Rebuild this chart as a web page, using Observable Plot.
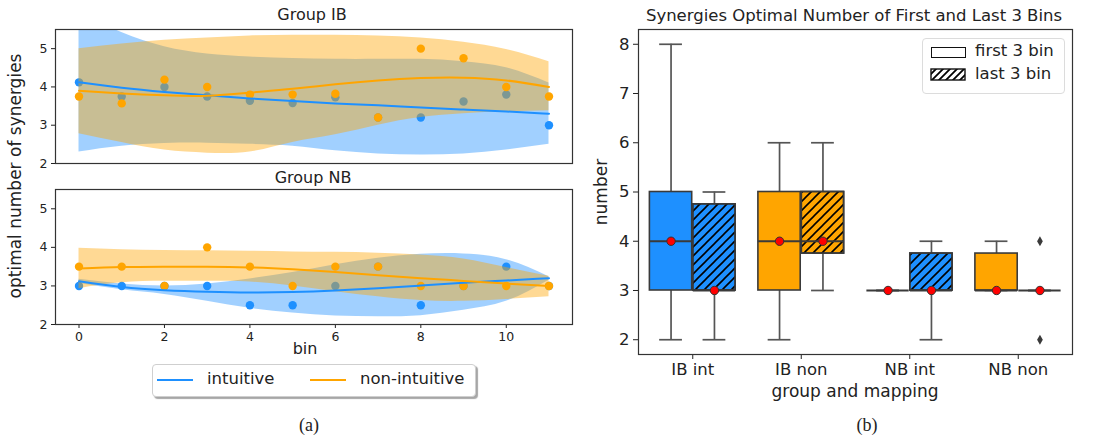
<!DOCTYPE html>
<html>
<head>
<meta charset="utf-8">
<script src="https://cdn.jsdelivr.net/npm/d3@7"></script>
<script src="https://cdn.jsdelivr.net/npm/@observablehq/plot@0.6"></script>
<style>
  body { margin: 0; background: #fff; }
  #fig { position: relative; width: 1096px; height: 438px; background: #fff; font-family: "DejaVu Sans", sans-serif; color: #222; overflow: hidden; }
  .abs { position: absolute; }
  .lbl { position: absolute; white-space: nowrap; line-height: 1; transform: translate(-50%, -50%); }
</style>
</head>
<body>
<div id="fig"></div>
<script>
// ---------- data: panel (a) ----------
const bins = [0, 1, 2, 3, 4, 5, 6, 7, 8, 9, 10, 11];

// Group IB
const ibIntDots = [4.12, 3.75, 4.0, 3.75, 3.64, 3.58, 3.73, 3.2, 3.2, 3.62, 3.8, 3.0];
const ibNonDots = [3.75, 3.57, 4.19, 4.0, 3.8, 3.8, 3.82, 3.2, 5.0, 4.75, 4.0, 3.75];
const ibIntFit = [4.12, 3.98, 3.87, 3.78, 3.7, 3.63, 3.57, 3.52, 3.46, 3.41, 3.36, 3.3];
const ibIntLo = [2.3, 2.45, 2.52, 2.53, 2.5, 2.45, 2.33, 2.25, 2.22, 2.25, 2.35, 2.5];
const ibIntHi = [5.95, 5.42, 5.05, 4.86, 4.78, 4.74, 4.72, 4.72, 4.72, 4.66, 4.5, 4.1];
const ibNonFit = [3.9, 3.83, 3.78, 3.77, 3.85, 3.95, 4.07, 4.17, 4.23, 4.24, 4.17, 4.0];
const ibNonLo = [2.78, 2.55, 2.35, 2.27, 2.3, 2.55, 2.75, 3.0, 3.2, 3.3, 3.35, 3.38];
const ibNonHi = [5.0, 5.12, 5.22, 5.28, 5.33, 5.35, 5.35, 5.33, 5.28, 5.17, 4.98, 4.66];

// Group NB
const nbIntDots = [3.0, 3.0, 3.0, 3.0, 2.5, 2.5, 3.0, 3.5, 2.5, 3.0, 3.5, 3.0];
const nbNonDots = [3.5, 3.5, 3.0, 4.0, 3.5, 3.0, 3.5, 3.5, 3.0, 3.0, 3.0, 3.0];
const nbIntFit = [3.12, 2.97, 2.89, 2.85, 2.83, 2.84, 2.88, 2.94, 3.01, 3.08, 3.14, 3.2];
const nbIntLo = [3.06, 2.9, 2.78, 2.6, 2.42, 2.3, 2.22, 2.2, 2.23, 2.37, 2.6, 3.15];
const nbIntHi = [3.17, 3.05, 3.0, 3.05, 3.18, 3.35, 3.55, 3.72, 3.82, 3.83, 3.68, 3.24];
const nbNonFit = [3.45, 3.49, 3.5, 3.5, 3.48, 3.43, 3.36, 3.28, 3.2, 3.13, 3.06, 3.0];
const nbNonLo = [2.93, 3.08, 3.12, 3.12, 3.1, 3.0, 2.85, 2.72, 2.62, 2.6, 2.65, 2.72];
const nbNonHi = [3.98, 3.94, 3.92, 3.91, 3.9, 3.88, 3.87, 3.85, 3.8, 3.7, 3.48, 3.25];

const yTicksA = [2, 3, 4, 5];
const xTicksA = [0, 2, 4, 6, 8, 10];
const seriesNames = ["intuitive", "non-intuitive"];

// ---------- data: panel (b) ----------
const boxCats = ["IB int", "IB non", "NB int", "NB non"];
const boxHues = ["first 3 bin", "last 3 bin"];
const boxCat = [0, 0, 1, 1, 2, 2, 3, 3];
const boxHue = [0, 1, 0, 1, 0, 1, 0, 1];
const whiskLo = [2, 2, 2, 3, 3, 2, 3, 3];
const boxQ1 = [3, 3, 3, 3.75, 3, 3, 3, 3];
const boxMed = [4, 3, 4, 4, 3, 3, 3, 3];
const boxQ3 = [5, 4.75, 5, 5, 3, 3.75, 3.75, 3];
const whiskHi = [8, 5, 6, 6, 3, 4, 4, 3];
const boxMean = [4, 3, 4, 4, 3, 3, 3, 3];
const outCat = [3, 3];
const outHue = [1, 1];
const outVal = [4, 2];
const yTicksB = [2, 3, 4, 5, 6, 7, 8];

const BLUE = "#1e90ff";
const ORANGE = "#ffa500";
const BAND_OP = 0.42;
const intFmt = d => String(d);

const fig = document.getElementById("fig");

function place(el, x, y) {
  const d = document.createElement("div");
  d.className = "abs";
  d.style.left = x + "px";
  d.style.top = y + "px";
  d.appendChild(el);
  fig.appendChild(d);
  return d;
}
function text(t, x, y, size, extra = "") {
  const d = document.createElement("div");
  d.className = "lbl";
  d.style.left = x + "px";
  d.style.top = y + "px";
  d.style.fontSize = size + "px";
  d.style.cssText += extra;
  d.textContent = t;
  fig.appendChild(d);
  return d;
}

function rowsOf(intDots, nonDots, intFit, intLo, intHi, nonFit, nonLo, nonHi) {
  return bins.map((b, i) => ({
    bin: b, intDot: intDots[i], nonDot: nonDots[i],
    intFit: intFit[i], intLo: intLo[i], intHi: intHi[i],
    nonFit: nonFit[i], nonLo: nonLo[i], nonHi: nonHi[i]
  }));
}

function panel(d, { height, marginTop, marginBottom, xAxis }) {
  return Plot.plot({
    width: 590, height, marginLeft: 55, marginRight: 18, marginTop, marginBottom,
    style: { fontFamily: "DejaVu Sans", fontSize: "12.5px", color: "#222", background: "transparent", overflow: "visible" },
    x: { domain: [-0.55, 11.55], ticks: xTicksA, tickFormat: intFmt, tickSize: 4, tickPadding: 4, label: null, axis: xAxis ? "bottom" : null },
    y: { domain: [2, 5.5], ticks: yTicksA, tickFormat: intFmt, tickSize: 4, tickPadding: 4, label: null },
    marks: [
      Plot.areaY(d, { x: "bin", y1: "intLo", y2: "intHi", fill: BLUE, fillOpacity: BAND_OP, curve: "natural", clip: true }),
      Plot.dot(d, { x: "bin", y: "intDot", fill: BLUE, r: 4.2 }),
      Plot.areaY(d, { x: "bin", y1: "nonLo", y2: "nonHi", fill: ORANGE, fillOpacity: BAND_OP, curve: "natural", clip: true }),
      Plot.dot(d, { x: "bin", y: "nonDot", fill: ORANGE, r: 4.2 }),
      Plot.line(d, { x: "bin", y: "intFit", stroke: BLUE, strokeWidth: 2, curve: "natural" }),
      Plot.line(d, { x: "bin", y: "nonFit", stroke: ORANGE, strokeWidth: 2, curve: "natural" }),
      Plot.frame({ stroke: "#333", strokeWidth: 1.2 })
    ]
  });
}

// ---------- panel (a) ----------
const ibRows = rowsOf(ibIntDots, ibNonDots, ibIntFit, ibIntLo, ibIntHi, ibNonFit, ibNonLo, ibNonHi);
const nbRows = rowsOf(nbIntDots, nbNonDots, nbIntFit, nbIntLo, nbIntHi, nbNonFit, nbNonLo, nbNonHi);

place(panel(ibRows, { height: 170, marginTop: 29, marginBottom: 7, xAxis: false }), 0, 0);
place(panel(nbRows, { height: 190, marginTop: 19, marginBottom: 36, xAxis: true }), 0, 170);

text("Group IB", 312, 15, 16);
text("Group NB", 313, 178, 16);
text("bin", 305, 349, 16);
text("optimal number of synergies", 15, 176, 17, "transform: translate(-50%, -50%) rotate(-90deg);");

// legend (a)
const legA = document.createElement("div");
legA.style.cssText = "position:absolute;left:152px;top:364px;width:322px;height:31px;border:1px solid #cfcfcf;border-radius:4px;background:#fff;box-shadow:2px 2px 1px rgba(0,0,0,0.35);";
fig.appendChild(legA);
const legColors = [BLUE, ORANGE];
const legLineX = [157, 310];
const legTextX = [207, 360];
seriesNames.forEach((name, i) => {
  const ln = document.createElement("div");
  ln.style.cssText = `position:absolute;left:${legLineX[i]}px;top:379px;width:36px;height:2px;background:${legColors[i]};`;
  fig.appendChild(ln);
  const t = document.createElement("div");
  t.style.cssText = `position:absolute;left:${legTextX[i]}px;top:371px;font-size:16.5px;line-height:1;white-space:nowrap;`;
  t.textContent = name;
  fig.appendChild(t);
});
text("(a)", 309, 425, 18, "font-family:'Liberation Serif', serif;");

// ---------- panel (b) ----------
const boxRows = boxCat.map((c, i) => ({
  cat: c, hue: boxHue[i], pos: c + (boxHue[i] === 0 ? -0.2 : 0.2),
  lo: whiskLo[i], q1: boxQ1[i], med: boxMed[i], q3: boxQ3[i], hi: whiskHi[i], mean: boxMean[i]
}));
const outRows = outCat.map((c, i) => ({ pos: c + (outHue[i] === 0 ? -0.2 : 0.2), v: outVal[i] }));
const HW = 0.195, CAP = 0.105;
const EDGE = "#3a3a3a", WHISK = "#555";

const boxPlot = Plot.plot({
  width: 500, height: 400, marginLeft: 58, marginRight: 8, marginTop: 29, marginBottom: 46,
  style: { fontFamily: "DejaVu Sans", fontSize: "16.5px", color: "#222", background: "transparent", overflow: "visible" },
  x: { domain: [-0.5, 3.5], ticks: [0, 1, 2, 3], tickFormat: i => boxCats[i], tickSize: 5, tickPadding: 4, label: null },
  y: { domain: [1.7, 8.3], ticks: yTicksB, tickFormat: intFmt, tickSize: 5, tickPadding: 4, label: null },
  marks: [
    Plot.ruleX(boxRows, { x: "pos", y1: "lo", y2: "q1", stroke: WHISK, strokeWidth: 1.7 }),
    Plot.ruleX(boxRows, { x: "pos", y1: "q3", y2: "hi", stroke: WHISK, strokeWidth: 1.7 }),
    Plot.ruleY(boxRows, { y: "lo", x1: d => d.pos - CAP, x2: d => d.pos + CAP, stroke: WHISK, strokeWidth: 1.7 }),
    Plot.ruleY(boxRows, { y: "hi", x1: d => d.pos - CAP, x2: d => d.pos + CAP, stroke: WHISK, strokeWidth: 1.7 }),
    Plot.rect(boxRows.filter(d => d.cat % 2 === 0 && d.q3 > d.q1), { x1: d => d.pos - HW, x2: d => d.pos + HW, y1: "q1", y2: "q3", fill: BLUE, stroke: EDGE, strokeWidth: 1.6 }),
    Plot.rect(boxRows.filter(d => d.cat % 2 === 1 && d.q3 > d.q1), { x1: d => d.pos - HW, x2: d => d.pos + HW, y1: "q1", y2: "q3", fill: ORANGE, stroke: EDGE, strokeWidth: 1.6 }),
    Plot.rect(boxRows.filter(d => d.hue === 1 && d.q3 > d.q1), { x1: d => d.pos - HW, x2: d => d.pos + HW, y1: "q1", y2: "q3", fill: "url(#hatch)", stroke: EDGE, strokeWidth: 1.6 }),
    Plot.ruleY(boxRows, { y: "med", x1: d => d.pos - HW, x2: d => d.pos + HW, stroke: EDGE, strokeWidth: 2 }),
    Plot.dot(boxRows, { x: "pos", y: "mean", fill: "#ff0000", stroke: "#333", strokeWidth: 1, r: 4.2 }),
    Plot.dot(outRows, { x: "pos", y: "v", symbol: "diamond", fill: "#3a3a3a", r: 3 }),
    Plot.frame({ stroke: "#333", strokeWidth: 1.2 })
  ]
});
{
  const defs = d3.select(boxPlot).insert("defs", ":first-child");
  const p = defs.append("pattern").attr("id", "hatch").attr("patternUnits", "userSpaceOnUse").attr("width", 9).attr("height", 9);
  p.append("path").attr("d", "M-2,2 L2,-2 M0,9 L9,0 M7,11 L11,7").attr("stroke", "#000").attr("stroke-width", 1.6).attr("fill", "none");
}
place(boxPlot, 580, 0);

text("Synergies Optimal Number of First and Last 3 Bins", 854, 16, 16.5);
text("number", 601, 192, 17, "transform: translate(-50%, -50%) rotate(-90deg);");
text("group and mapping", 855, 391, 17);
text("(b)", 867, 425, 18, "font-family:'Liberation Serif', serif;");

// legend (b)
const legB = document.createElement("div");
legB.style.cssText = "position:absolute;left:922px;top:38px;width:141px;height:54px;border:1px solid #dcdcdc;border-radius:4px;background:#fff;";
fig.appendChild(legB);
const sw1 = document.createElement("div");
sw1.style.cssText = "position:absolute;left:931px;top:47px;width:33px;height:9px;border:1.3px solid #111;background:#fff;";
fig.appendChild(sw1);
const sw2 = document.createElementNS("http://www.w3.org/2000/svg", "svg");
sw2.setAttribute("width", 36); sw2.setAttribute("height", 13);
sw2.style.cssText = "position:absolute;left:930px;top:68px;";
sw2.innerHTML = '<defs><pattern id="hatch2" patternUnits="userSpaceOnUse" width="7" height="7"><path d="M-2,2 L2,-2 M0,7 L7,0 M5,9 L9,5" stroke="#000" stroke-width="1.8" fill="none"/></pattern></defs><rect x="1" y="1" width="34" height="11" fill="url(#hatch2)" stroke="#111" stroke-width="1.4"/>';
fig.appendChild(sw2);
const legBText = [52, 75];
boxHues.forEach((h, i) => {
  const t = document.createElement("div");
  t.style.cssText = `position:absolute;left:975px;top:${legBText[i] - 9}px;font-size:16.5px;line-height:1;white-space:nowrap;`;
  t.textContent = h;
  fig.appendChild(t);
});
</script>
</body>
</html>
